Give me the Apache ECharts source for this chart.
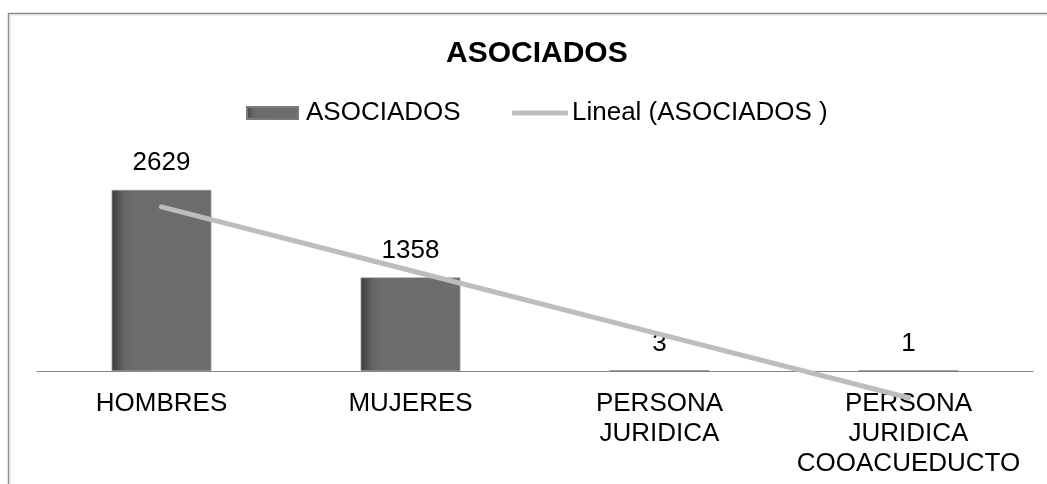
<!DOCTYPE html>
<html>
<head>
<meta charset="utf-8">
<script src="https://cdn.jsdelivr.net/npm/echarts@6/dist/echarts.min.js"></script>
<style>
html,body{margin:0;padding:0;background:#fff;}
#chart{width:1047px;height:484px;}
</style>
</head>
<body>
<div id="chart"></div>
<script>
var categories = ['HOMBRES', 'MUJERES', 'PERSONA\nJURIDICA', 'PERSONA\nJURIDICA\nCOOACUEDUCTO'];
var asociados = [2629, 1358, 3, 1];
var trendValues = [2384, 1460, 536, -388];
var titleText = 'ASOCIADOS';
var barName = 'ASOCIADOS';
var lineName = 'Lineal (ASOCIADOS )';

var FONT = '"Liberation Sans", Arial, sans-serif';
var chart = echarts.init(document.getElementById('chart'), null, {renderer: 'canvas'});

var barGradient = new echarts.graphic.LinearGradient(0, 0, 1, 0, [
  {offset: 0, color: '#3a3a3a'},
  {offset: 0.05, color: '#4e4e4e'},
  {offset: 0.12, color: '#646464'},
  {offset: 0.2, color: '#6c6c6c'},
  {offset: 1, color: '#6d6d6d'}
]);

chart.setOption({
  animation: false,
  backgroundColor: '#ffffff',
  textStyle: {fontFamily: FONT},
  title: {
    text: titleText,
    left: 446,
    top: 39,
    padding: 0,
    textStyle: {fontFamily: FONT, fontSize: 30, fontWeight: 'bold', color: '#000', lineHeight: 30}
  },
  legend: [
    {
      data: [barName],
      left: 246,
      top: 100,
      padding: 0,
      itemWidth: 51,
      itemHeight: 12,
      icon: 'rect',
      textStyle: {fontFamily: FONT, fontSize: 26, color: '#000', padding: [0, 0, 0, 3]}
    },
    {
      data: [lineName],
      left: 512,
      top: 100,
      padding: 0,
      itemWidth: 56,
      itemHeight: 5,
      icon: 'roundRect',
      textStyle: {fontFamily: FONT, fontSize: 26, color: '#000', padding: [0, 0, 0, -1]}
    }
  ],
  grid: {left: 37, right: 14, top: 164.46, bottom: 113, containLabel: false, outerBoundsMode: 'none'},
  xAxis: {
    type: 'category',
    data: categories,
    axisLine: {onZero: false, lineStyle: {color: '#868686', width: 1}},
    axisTick: {show: false},
    axisLabel: {fontFamily: FONT, fontSize: 26, color: '#000', lineHeight: 30, margin: 17.5, interval: 0}
  },
  yAxis: {
    type: 'value',
    min: 0,
    max: 3000,
    show: false,
    splitLine: {show: false}
  },
  series: [
    {
      name: barName,
      type: 'bar',
      data: asociados,
      barWidth: '40%',
      itemStyle: {color: barGradient, borderColor: '#7a7a7a', borderWidth: 0.8},
      label: {
        show: true,
        position: 'top',
        distance: 14,
        fontFamily: FONT,
        fontSize: 26,
        lineHeight: 26,
        color: '#000'
      },
      z: 2
    },
    {
      name: lineName,
      type: 'line',
      data: trendValues,
      clip: false,
      showSymbol: false,
      symbol: 'none',
      itemStyle: {color: '#bdbdbd'},
      lineStyle: {color: '#bdbdbd', width: 5, cap: 'round'},
      z: 3
    }
  ],
  graphic: [
    {
      type: 'rect',
      silent: true,
      shape: {x: 8.5, y: 13.5, width: 1060, height: 520},
      style: {fill: 'none', stroke: '#8a8a8a', lineWidth: 1.5}
    },
    {
      type: 'rect',
      silent: true,
      shape: {x: 10, y: 15, width: 1060, height: 520},
      style: {fill: 'none', stroke: '#dcdcdc', lineWidth: 1}
    }
  ]
});
</script>
</body>
</html>
